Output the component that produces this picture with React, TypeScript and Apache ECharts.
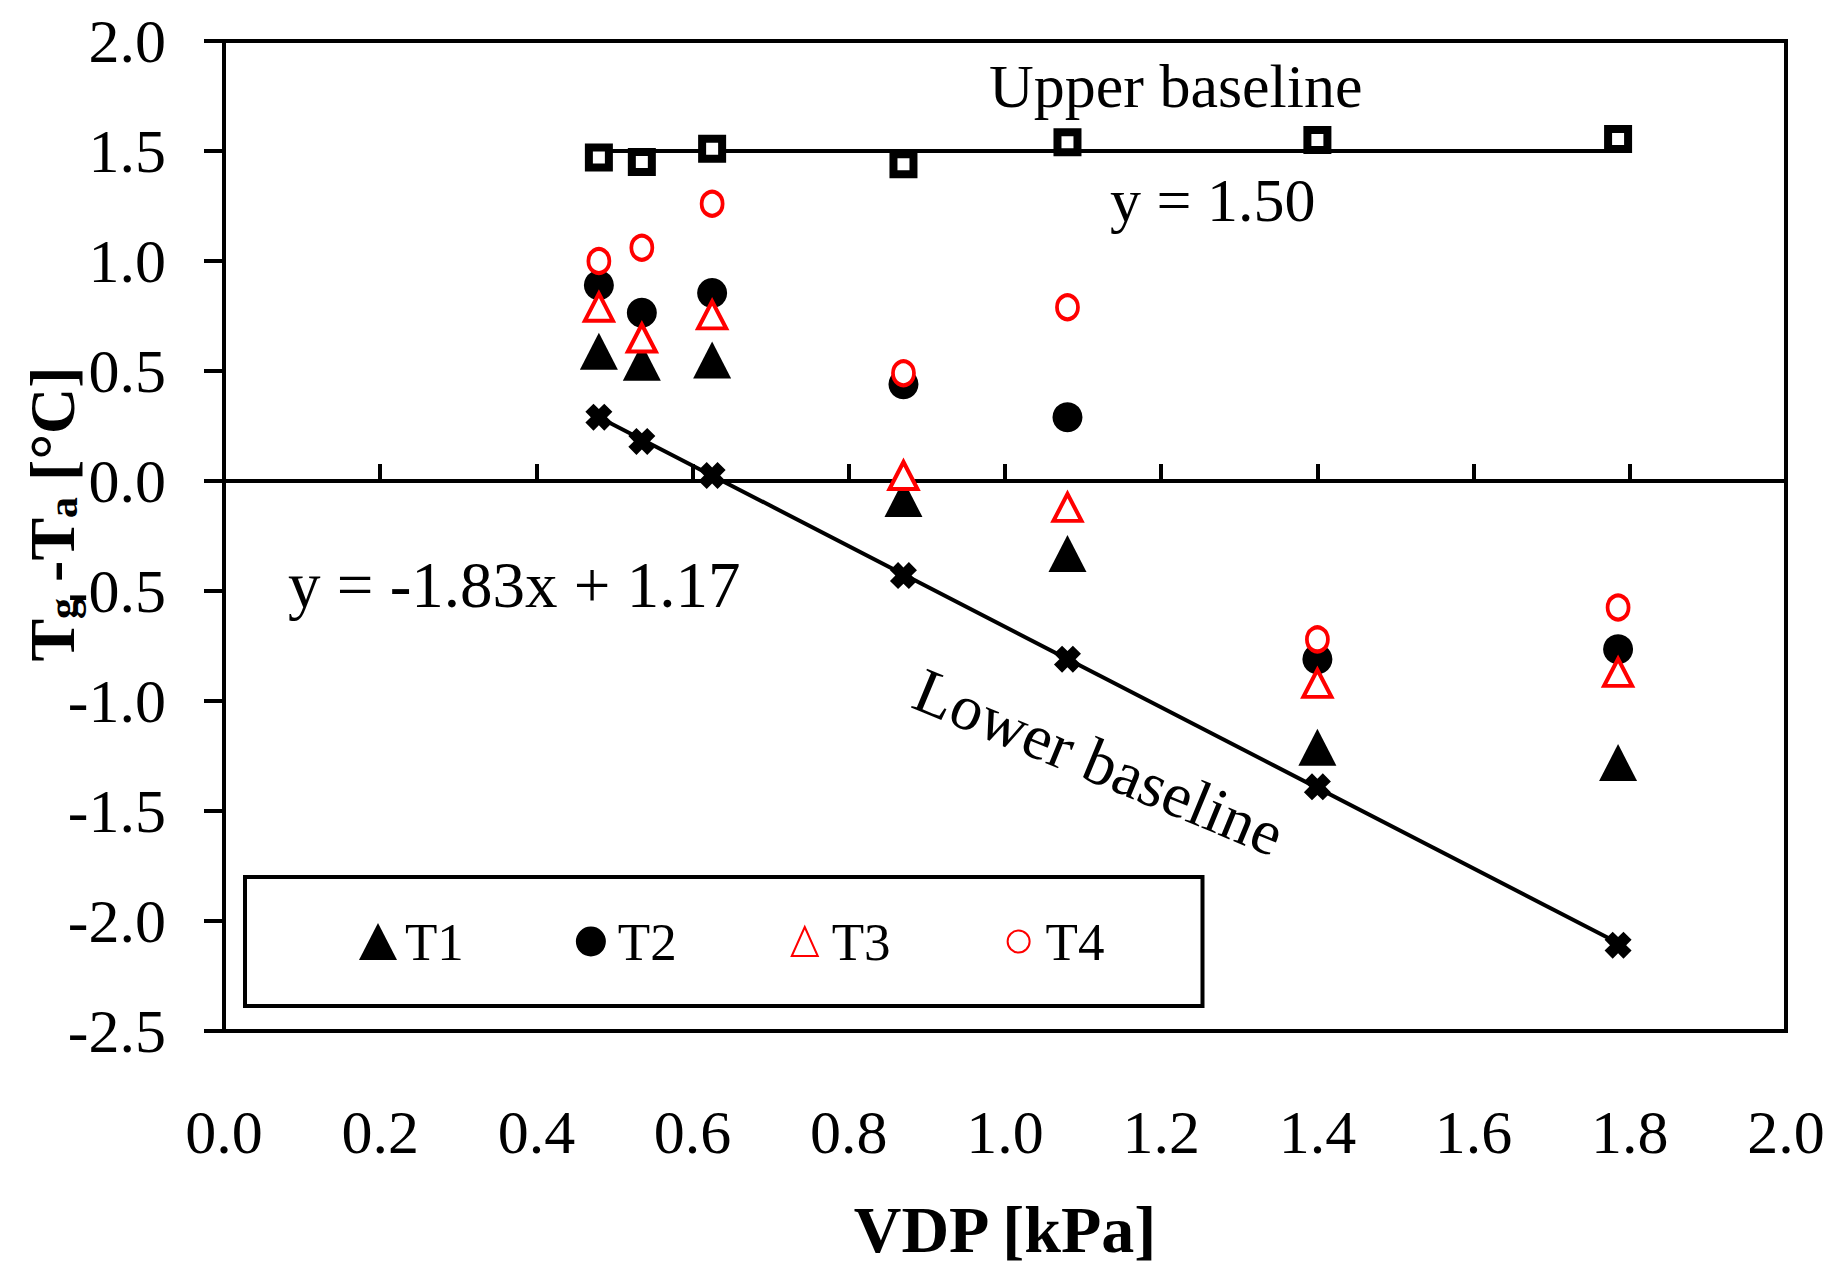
import React, { useEffect, useRef } from "react";
import * as echarts from "echarts";

// ---- data ----
const vdp = [0.48, 0.535, 0.625, 0.87, 1.08, 1.4, 1.785];
const upperBaseline = [1.47, 1.45, 1.51, 1.44, 1.54, 1.55, 1.555];
const lowerBaseline = [0.29, 0.18, 0.025, -0.43, -0.81, -1.39, -2.11];
const t1 = [0.59, 0.54, 0.55, -0.08, -0.33, -1.21, -1.28];
const t2 = [0.89, 0.765, 0.855, 0.44, 0.29, -0.81, -0.765];
const t3 = [0.79, 0.65, 0.755, 0.025, -0.12, -0.92, -0.87];
const t4 = [1.0, 1.06, 1.26, 0.49, 0.79, -0.72, -0.575];
const upperFitX = [0.48, 1.785];
const upperFitY = [1.5, 1.5];
const lowerFitX = [0.48, 1.785];
const lowerFitY = [0.29, -2.1];
const legendNames = ["T1", "T2", "T3", "T4"];

const FONT = "'Liberation Serif', 'Times New Roman', serif";
const CROSS =
  "path://M0,3 L3,0 L5,2 L7,0 L10,3 L8,5 L10,7 L7,10 L5,8 L3,10 L0,7 L2,5 Z";
// legend icons drawn inside a 38x37 box so that their size matches the reference
const ICON_T2 = "path://M0,0 M38,37 M4,18.5 A15,15 0 1,1 34,18.5 A15,15 0 1,1 4,18.5 Z";
const ICON_T3 = "path://M0,0 M38,37 M19,4 L32,33 L6,33 Z";
const ICON_T4 = "path://M0,0 M38,37 M8,18.5 A11,11 0 1,1 30,18.5 A11,11 0 1,1 8,18.5 Z";

const pairs = (xs: number[], ys: number[]) => xs.map((x, i) => [x, ys[i]]);

export default function App() {
  const ref = useRef<HTMLDivElement>(null);
  useEffect(() => {
    if (!ref.current) return;
    const chart = echarts.init(ref.current, null, { renderer: "svg" });
    const option: any = {
      animation: false,
      backgroundColor: "#ffffff",
      grid: {
        left: 224,
        right: 60,
        top: 41,
        bottom: 257,
        show: true,
        borderColor: "#000",
        borderWidth: 4,
        backgroundColor: "transparent",
      },
      legend: {
        data: [
          { name: legendNames[0], icon: "triangle" },
          { name: legendNames[1], icon: ICON_T2 },
          { name: legendNames[2], icon: ICON_T3 },
          { name: legendNames[3], icon: ICON_T4 },
        ],
        orient: "horizontal",
        left: 245,
        top: 877,
        padding: [38, 98, 38, 114],
        itemGap: 108,
        itemWidth: 38,
        itemHeight: 37,
        borderColor: "#000",
        borderWidth: 4,
        borderRadius: 0,
        textStyle: { fontFamily: FONT, fontSize: 53, color: "#000", padding: [0, 0, 0, 3] },
      },
      xAxis: [
        {
          type: "value",
          min: 0,
          max: 2,
          interval: 0.2,
          position: "bottom",
          axisLine: { show: true, onZero: false, lineStyle: { color: "#000", width: 4 } },
          axisTick: { show: false },
          splitLine: { show: false },
          axisLabel: {
            margin: 70,
            fontFamily: FONT,
            fontSize: 62,
            color: "#000",
            formatter: (v: number) => v.toFixed(1),
          },
          name: "VDP [kPa]",
          nameLocation: "middle",
          nameGap: 165,
          nameTextStyle: { fontFamily: FONT, fontSize: 66, fontWeight: "bold", color: "#000" },
        },
        {
          type: "value",
          min: 0,
          max: 2,
          interval: 0.2,
          position: "bottom",
          axisLine: { show: true, onZero: true, onZeroAxisIndex: 0, lineStyle: { color: "#000", width: 4 } },
          axisTick: { show: true, inside: true, length: 17, lineStyle: { color: "#000", width: 4 } },
          axisLabel: { show: false },
          splitLine: { show: false },
        },
      ],
      yAxis: {
        type: "value",
        min: -2.5,
        max: 2.0,
        interval: 0.5,
        axisLine: { show: true, onZero: false, lineStyle: { color: "#000", width: 4 } },
        axisTick: { show: true, inside: false, length: 20, lineStyle: { color: "#000", width: 4 } },
        splitLine: { show: false },
        axisLabel: {
          margin: 58,
          fontFamily: FONT,
          fontSize: 62,
          color: "#000",
          formatter: (v: number) => v.toFixed(1),
        },
      },
      graphic: [
        {
          type: "text",
          x: 989,
          y: 86,
          style: { text: "Upper baseline", font: `62px ${FONT}`, fill: "#000", textAlign: "left", textVerticalAlign: "middle" },
        },
        {
          type: "text",
          x: 1110,
          y: 200,
          style: { text: "y = 1.50", font: `62px ${FONT}`, fill: "#000", textAlign: "left", textVerticalAlign: "middle" },
        },
        {
          type: "text",
          x: 288,
          y: 585,
          style: { text: "y = -1.83x + 1.17", font: `65px ${FONT}`, fill: "#000", textAlign: "left", textVerticalAlign: "middle" },
        },
        {
          type: "text",
          x: 1099,
          y: 762,
          rotation: (-22.5 * Math.PI) / 180,
          style: { text: "Lower baseline", font: `64px ${FONT}`, fill: "#000", textAlign: "center", textVerticalAlign: "middle" },
        },
        {
          type: "text",
          x: 52,
          y: 514,
          rotation: Math.PI / 2,
          style: {
            text: "{b|T}{s|g}{b| -T}{s|a}{b| [°C]}",
            textAlign: "center",
            textVerticalAlign: "middle",
            fill: "#000",
            rich: {
              b: { fontFamily: FONT, fontSize: 64, fontWeight: "bold", lineHeight: 64, fill: "#000" },
              s: { fontFamily: FONT, fontSize: 42, fontWeight: "bold", lineHeight: 30, verticalAlign: "bottom", fill: "#000" },
            },
          },
        },
      ],
      series: [
        {
          name: "Upper fit",
          type: "line",
          data: pairs(upperFitX, upperFitY),
          showSymbol: false,
          symbol: "none",
          lineStyle: { color: "#000", width: 4 },
          z: 2,
        },
        {
          name: "Lower fit",
          type: "line",
          data: pairs(lowerFitX, lowerFitY),
          showSymbol: false,
          symbol: "none",
          lineStyle: { color: "#000", width: 4 },
          z: 2,
        },
        {
          name: "Upper baseline",
          type: "scatter",
          data: pairs(vdp, upperBaseline),
          symbol: "rect",
          symbolSize: 20,
          itemStyle: { color: "#fff", borderColor: "#000", borderWidth: 8, opacity: 1 },
          z: 3,
        },
        {
          name: "Lower baseline",
          type: "scatter",
          data: pairs(vdp, lowerBaseline),
          symbol: CROSS,
          symbolSize: 27,
          itemStyle: { color: "#000", opacity: 1 },
          z: 3,
        },
        {
          name: "T1",
          type: "scatter",
          data: pairs(vdp, t1),
          symbol: "triangle",
          symbolSize: [38, 37],
          itemStyle: { color: "#000", opacity: 1 },
          z: 4,
        },
        {
          name: "T2",
          type: "scatter",
          data: pairs(vdp, t2),
          symbol: "circle",
          symbolSize: 30,
          itemStyle: { color: "#000", opacity: 1 },
          z: 4,
        },
        {
          name: "T3",
          type: "scatter",
          data: pairs(vdp, t3),
          symbol: "triangle",
          symbolSize: [28, 27],
          itemStyle: { color: "#fff", borderColor: "#ff0000", borderWidth: 4, opacity: 1 },
          z: 5,
        },
        {
          name: "T4",
          type: "scatter",
          data: pairs(vdp, t4),
          symbol: "circle",
          symbolSize: [21, 24],
          itemStyle: { color: "#fff", borderColor: "#ff0000", borderWidth: 4, opacity: 1 },
          z: 5,
        },
      ],
    };
    chart.setOption(option);
    return () => chart.dispose();
  }, []);
  return (
    <div
      ref={ref}
      style={{ position: "fixed", left: 0, top: 0, width: 1846, height: 1288, background: "#fff" }}
    />
  );
}
